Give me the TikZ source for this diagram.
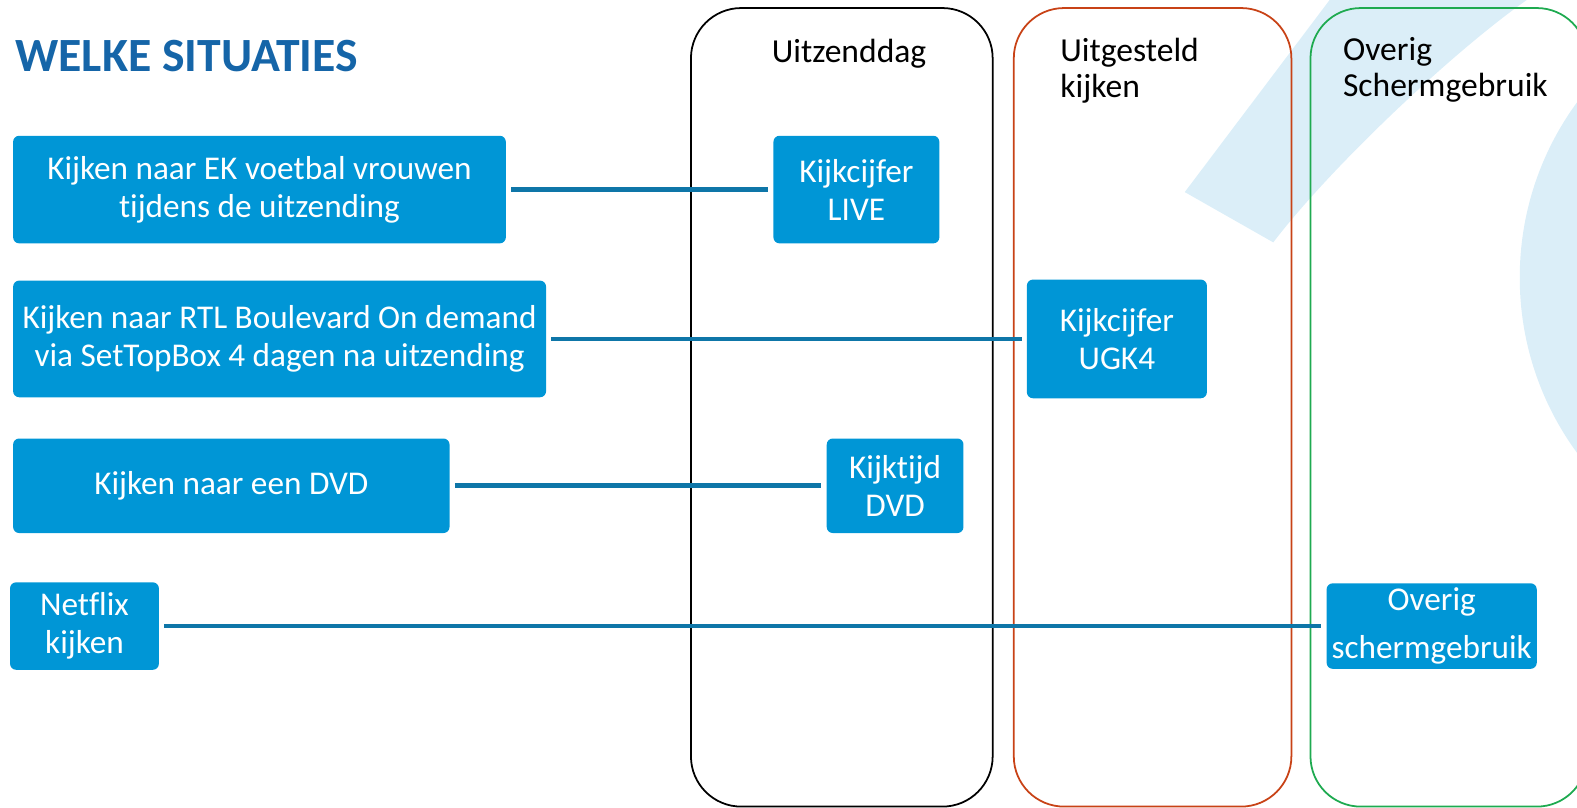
\documentclass[tikz,border=0pt]{standalone}
\usepackage{fontspec}
\setmainfont{Carlito}[Ligatures=NoCommon]

\definecolor{boxblauw}{RGB}{0,150,214}
\definecolor{lijnblauw}{RGB}{14,118,168}
\definecolor{titelblauw}{RGB}{21,101,168}
\definecolor{watermerk}{RGB}{219,238,248}
\definecolor{kolomrood}{RGB}{200,66,22}
\definecolor{kolomgroen}{RGB}{30,170,80}

\begin{document}
\begin{tikzpicture}[x=0.02cm, y=-0.02cm,
    situatie/.style={fill=boxblauw, text=white, rounded corners=0.12cm, align=center, inner sep=0pt, font=\fontsize{18.8}{21.5}\selectfont},
    lijn/.style={draw=lijnblauw, line width=2.6pt, shorten <=0.1cm, shorten >=0.1cm},
    kolom/.style={line width=1pt, rounded corners=1cm},
    kop/.style={anchor=base west, align=left, inner sep=0pt, font=\fontsize{19}{20.5}\selectfont}]
    \useasboundingbox (0,0) rectangle (1568,803);

    % Watermerk op de achtergrond
    \fill[watermerk] (1178,191) -- (1322,0) -- (1518,0) .. controls (1440,55) and (1320,170) .. (1266,241) -- cycle;
    \fill[watermerk] (1806,276) circle (5.9cm);

    % Kolommen voor de soorten meting
    \foreach \xa/\xb/\kleur in {687/987/black, 1008/1284/kolomrood, 1303/1578/kolomgroen} {
        \draw[kolom, draw=\kleur] (\xa,8) rectangle (\xb,802);
    }
    \node[kop] (uitzenddag) at (767,62) {Uitzenddag};
    \node[kop] (uitgesteld) at (1054,97) {Uitgesteld\\kijken}; % basis = laatste regel
    \node[kop] (schermkop) at (1335,96) {Overig\\Schermgebruik};

    % Titel
    \node[anchor=base west, inner sep=0pt, text=titelblauw, font=\fontsize{27}{30}\selectfont\bfseries] (titel) at (15,71) {WELKE SITUATIES};

    % De situaties links
    \node[situatie, minimum width=9.8cm, minimum height=2.14cm] (ek) at (258,188.5) {Kijken naar EK voetbal vrouwen\\tijdens de uitzending};
    \node[situatie, minimum width=10.6cm, minimum height=2.32cm] (rtl) at (278,337) {Kijken naar RTL Boulevard On demand\\via SetTopBox 4 dagen na uitzending};
    \node[situatie, minimum width=8.68cm, minimum height=1.88cm] (dvd) at (230,483) {Kijken naar een DVD};
    \node[situatie, minimum width=2.96cm, minimum height=1.74cm] (netflix) at (84,622.5) {Netflix\\kijken};

    % De metingen in de kolommen
    \node[situatie, minimum width=3.3cm, minimum height=2.14cm] (live) at (851.5,188.5) {Kijkcijfer\\LIVE};
    \node[situatie, minimum width=3.58cm, minimum height=2.36cm] (ugk4) at (1110.5,337) {Kijkcijfer\\UGK4};
    \node[situatie, minimum width=2.72cm, minimum height=1.88cm] (kijktijd) at (890,483) {Kijktijd\\DVD};
    \node[situatie, minimum width=4.18cm, minimum height=1.7cm, font=\fontsize{18.8}{27}\selectfont] (overig) at (1423.5,622.5) {Overig\\schermgebruik};

    % Verbindingen
    \draw[lijn] (ek) -- (live);
    \draw[lijn] (rtl) -- (ugk4);
    \draw[lijn] (dvd) -- (kijktijd);
    \draw[lijn] (netflix) -- (overig);
\end{tikzpicture}
\end{document}
